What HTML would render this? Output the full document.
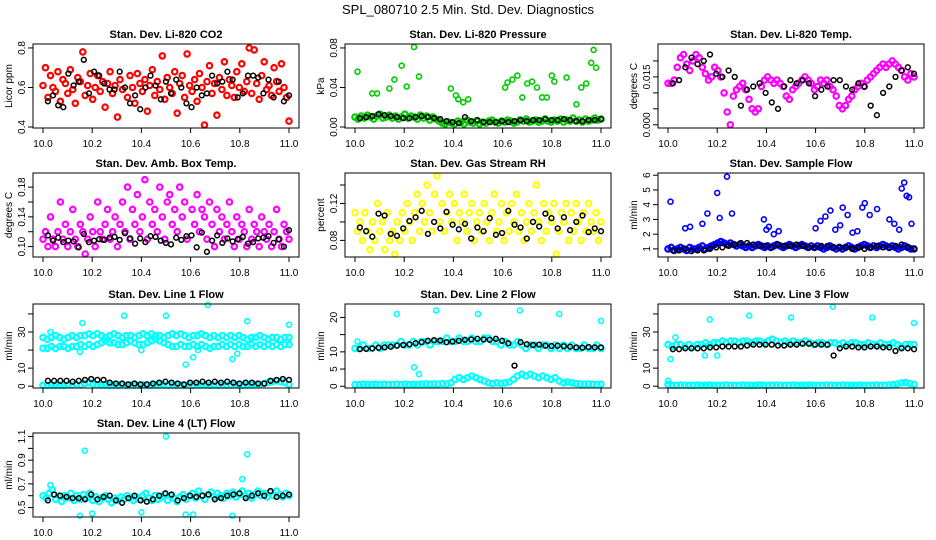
<!DOCTYPE html>
<html><head><meta charset="utf-8"><style>
body{margin:0;background:#fff;}
svg{display:block;font-family:"Liberation Sans",sans-serif;}
</style></head><body>
<svg id="fig" width="936" height="540" viewBox="0 0 936 540">
<rect width="936" height="540" fill="#fff"/>
<text x="468" y="14" text-anchor="middle" font-size="13">SPL_080710  2.5 Min. Std. Dev. Diagnostics</text>
</svg>
<script>
// ---------- data ----------
const xTicks = [10.0, 10.2, 10.4, 10.6, 10.8, 11.0];
const xTickLabels = ["10.0", "10.2", "10.4", "10.6", "10.8", "11.0"];

const co2Color = [0.61,0.70,0.55,0.66,0.60,0.58,0.68,0.53,0.64,0.62,0.57,0.69,0.59,0.52,0.65,0.63,0.78,0.56,0.61,0.67,0.54,0.60,0.66,0.58,0.63,0.50,0.62,0.68,0.57,0.61,0.45,0.64,0.59,0.83,0.55,0.66,0.60,0.52,0.67,0.62,0.58,0.64,0.48,0.61,0.69,0.56,0.63,0.59,0.76,0.54,0.65,0.60,0.57,0.68,0.47,0.62,0.66,0.55,0.77,0.61,0.58,0.64,0.53,0.67,0.60,0.41,0.63,0.71,0.57,0.62,0.46,0.65,0.59,0.73,0.56,0.64,0.61,0.55,0.68,0.60,0.72,0.58,0.63,0.80,0.57,0.79,0.62,0.54,0.66,0.73,0.59,0.61,0.56,0.70,0.63,0.58,0.72,0.60,0.55,0.43];
const co2Black = [0.53,0.56,0.51,0.50,0.67,0.61,0.63,0.74,0.57,0.68,0.66,0.62,0.59,0.59,0.68,0.60,0.52,0.56,0.49,0.60,0.66,0.61,0.54,0.63,0.57,0.64,0.60,0.52,0.50,0.60,0.56,0.57,0.66,0.62,0.63,0.68,0.64,0.55,0.57,0.66,0.66,0.65,0.57,0.64,0.55,0.63,0.53,0.56];

const presColor = [0.010,0.008,0.011,0.009,0.012,0.010,0.008,0.011,0.013,0.009,0.010,0.012,0.009,0.011,0.008,0.010,0.013,0.009,0.011,0.010,0.008,0.012,0.009,0.011,0.007,0.010,0.008,0.006,0.004,0.003,0.005,0.004,0.003,0.006,0.005,0.003,0.007,0.005,0.004,0.006,0.003,0.005,0.004,0.006,0.007,0.005,0.004,0.006,0.005,0.007,0.006,0.004,0.005,0.007,0.006,0.008,0.005,0.006,0.007,0.005,0.006,0.008,0.006,0.005,0.007,0.006,0.008,0.005,0.007,0.006,0.009,0.006,0.007,0.005,0.008,0.006,0.007,0.009,0.007,0.008];
const presOutX = [10.01,10.07,10.09,10.14,10.16,10.19,10.21,10.24,10.26,10.39,10.41,10.42,10.44,10.46,10.61,10.62,10.64,10.66,10.68,10.70,10.72,10.74,10.76,10.78,10.80,10.81,10.86,10.90,10.92,10.94,10.96,10.97,10.98];
const presOutY = [0.056,0.034,0.034,0.039,0.048,0.062,0.041,0.081,0.051,0.039,0.032,0.028,0.025,0.028,0.040,0.045,0.048,0.052,0.030,0.044,0.046,0.040,0.030,0.030,0.052,0.046,0.050,0.023,0.040,0.044,0.065,0.078,0.060];
const presBlack = [0.009,0.010,0.011,0.013,0.012,0.011,0.010,0.009,0.009,0.010,0.011,0.010,0.009,0.008,0.006,0.005,0.004,0.010,0.006,0.007,0.005,0.005,0.005,0.006,0.005,0.006,0.007,0.006,0.007,0.007,0.008,0.007,0.007,0.008,0.007,0.006,0.006,0.007,0.007,0.008];

const tempColor = [0.013,0.013,0.014,0.018,0.021,0.022,0.019,0.017,0.020,0.022,0.021,0.018,0.016,0.014,0.015,0.018,0.017,0.015,0.010,0.004,0.000,0.009,0.011,0.012,0.013,0.011,0.008,0.005,0.004,0.005,0.012,0.014,0.015,0.014,0.013,0.014,0.013,0.012,0.009,0.008,0.011,0.012,0.013,0.014,0.015,0.014,0.013,0.011,0.012,0.014,0.013,0.014,0.012,0.011,0.009,0.006,0.005,0.006,0.008,0.009,0.011,0.012,0.013,0.012,0.014,0.015,0.016,0.017,0.018,0.019,0.018,0.019,0.020,0.019,0.018,0.017,0.015,0.014,0.016,0.015];
const tempBlack = [0.013,0.014,0.018,0.021,0.019,0.020,0.022,0.016,0.015,0.017,0.015,0.006,0.011,0.012,0.013,0.010,0.007,0.005,0.012,0.014,0.013,0.014,0.013,0.009,0.011,0.012,0.014,0.014,0.012,0.011,0.013,0.012,0.006,0.003,0.010,0.012,0.015,0.017,0.018,0.016];

const ambColor = [0.11,0.12,0.10,0.14,0.11,0.10,0.12,0.16,0.11,0.13,0.10,0.12,0.15,0.11,0.10,0.13,0.12,0.09,0.11,0.14,0.12,0.10,0.16,0.12,0.11,0.13,0.15,0.11,0.12,0.14,0.10,0.13,0.16,0.12,0.18,0.11,0.15,0.13,0.17,0.12,0.14,0.19,0.11,0.16,0.13,0.15,0.12,0.18,0.14,0.11,0.16,0.17,0.13,0.15,0.12,0.18,0.14,0.16,0.11,0.20,0.15,0.13,0.17,0.12,0.15,0.14,0.11,0.16,0.13,0.10,0.15,0.12,0.14,0.11,0.13,0.16,0.12,0.10,0.14,0.11,0.13,0.12,0.10,0.15,0.11,0.13,0.12,0.10,0.14,0.12,0.11,0.13,0.10,0.12,0.15,0.11,0.10,0.13,0.12,0.11];
const ambBlack = [0.115,0.108,0.112,0.106,0.108,0.107,0.099,0.117,0.106,0.108,0.110,0.109,0.112,0.113,0.109,0.118,0.111,0.104,0.111,0.106,0.114,0.113,0.108,0.105,0.103,0.112,0.109,0.114,0.115,0.099,0.119,0.093,0.108,0.115,0.105,0.111,0.107,0.110,0.113,0.104,0.106,0.111,0.112,0.114,0.105,0.110,0.100,0.122];

const rhColor = [0.11,0.09,0.10,0.08,0.11,0.09,0.07,0.10,0.08,0.12,0.09,0.10,0.07,0.11,0.08,0.09,0.065,0.10,0.08,0.11,0.09,0.12,0.10,0.08,0.11,0.13,0.09,0.12,0.10,0.14,0.11,0.09,0.13,0.15,0.10,0.12,0.09,0.11,0.13,0.10,0.12,0.08,0.11,0.10,0.13,0.09,0.11,0.12,0.08,0.10,0.11,0.09,0.12,0.10,0.08,0.11,0.13,0.09,0.10,0.12,0.08,0.11,0.09,0.12,0.10,0.13,0.09,0.11,0.08,0.10,0.12,0.09,0.11,0.14,0.10,0.08,0.12,0.09,0.11,0.10,0.12,0.065,0.09,0.11,0.10,0.12,0.08,0.11,0.09,0.12,0.10,0.08,0.11,0.09,0.12,0.10,0.09,0.11,0.08,0.10];
const rhBlack = [0.094,0.090,0.084,0.109,0.107,0.087,0.085,0.093,0.101,0.105,0.112,0.087,0.100,0.093,0.111,0.097,0.092,0.098,0.082,0.094,0.090,0.104,0.086,0.088,0.112,0.097,0.094,0.082,0.100,0.095,0.109,0.104,0.093,0.105,0.091,0.100,0.107,0.089,0.093,0.090];

const flowColor = [1.0,1.1,0.9,1.0,1.1,1.0,0.9,1.1,1.0,1.0,1.1,1.2,1.0,1.1,1.2,1.3,1.4,1.5,1.4,1.3,1.4,1.3,1.2,1.3,1.2,1.1,1.2,1.1,1.2,1.3,1.2,1.1,1.2,1.1,1.2,1.3,1.2,1.1,1.2,1.3,1.2,1.1,1.2,1.3,1.2,1.1,1.2,1.1,1.2,1.1,1.0,1.1,1.2,1.1,1.0,1.1,1.0,1.1,1.2,1.1,1.0,1.1,1.2,1.3,1.2,1.1,1.2,1.1,1.2,1.3,1.2,1.1,1.2,1.1,1.0,1.1,1.2,1.1,1.0,1.0];
const flowOutX = [10.01,10.07,10.09,10.14,10.16,10.20,10.21,10.24,10.26,10.39,10.40,10.41,10.43,10.45,10.60,10.62,10.64,10.66,10.68,10.70,10.71,10.73,10.75,10.77,10.79,10.80,10.82,10.85,10.90,10.92,10.94,10.95,10.96,10.97,10.98,10.99];
const flowOutY = [4.2,2.4,2.5,2.7,3.4,4.8,3.1,5.9,3.4,3.0,2.3,2.5,2.0,2.2,2.4,2.9,3.2,3.6,2.3,2.6,3.8,3.3,2.1,2.2,3.8,4.1,3.3,3.7,3.0,2.7,2.3,5.1,5.5,4.6,4.5,2.7];
const flowBlack = [0.9,0.9,1.0,0.85,0.9,0.9,1.0,1.1,1.1,1.2,1.3,1.4,1.4,1.3,1.2,1.2,1.1,1.3,1.2,1.2,1.3,1.2,1.1,1.1,1.2,1.2,1.1,1.1,1.1,1.0,1.1,1.0,1.1,1.2,1.1,1.1,1.2,1.3,1.1,1.0];

const l1BandA = [27,26,27,28,27,26,27,28,27,28,28,29,28,29,28,27,28,29,28,27,28,28,27,28,29,28,29,28,28,27,28,29,28,29,28,27,28,28,29,28,27,28,27,28,27,28,27,28,27,26,27,27,28,27,26,27,27,26,27,27];
const l1BandB = [21,21,22,21,22,22,21,22,22,23,22,23,22,23,24,25,24,24,23,23,24,25,24,23,23,24,25,26,25,24,23,22,22,23,22,22,23,22,23,22,21,22,22,23,22,23,22,23,22,22,23,22,23,22,23,22,23,22,23,23];
const l1BandC = [0.5,0.5,0.6,0.5,0.6,0.5,0.7,0.6,0.8,0.7,1.5,2,1.2,0.8,0.6,0.6,0.5,0.6,0.5,0.6,0.5,0.6,0.5,0.6,0.7,0.6,0.5,0.6,0.7,0.6,0.5,0.6,0.5,0.6,0.5,0.6,0.5,0.6,0.7,0.6,0.5,0.6,0.5,0.6,0.5,0.6,0.7,0.6,0.5,0.6,0.7,0.8,1.0,1.5,2,2.5,3,2.5,2,1.0];
const l1OutX = [10.03,10.15,10.16,10.33,10.40,10.50,10.58,10.61,10.63,10.67,10.77,10.79,10.83,11.0];
const l1OutY = [30,19,35,39,20,39,12,16,20,45,15,18,36,34];
const l1Black = [3,3,3,3,2.5,3,3.5,4,3.5,3.5,2,1.5,1.5,1,1.5,1,1,1.5,2,2.5,2,1.5,1,2,2,2.5,2,2.5,2,2.5,2,1.5,2,2,1.5,1.5,3,3.5,4,3.5];

const l2BandA = [11,11,12,11,11,12,11,12,12,12,12,13,12,12,13,12,13,13,12,13,13,13,14,13,13,14,13,13,14,13,13,14,14,13,13,12,13,12,12,13,12,11,12,12,11,12,12,11,12,11,12,11,12,11,11,12,11,11,12,11];
const l2BandB = [0.5,0.5,0.6,0.5,0.5,0.6,0.5,0.6,0.5,0.5,0.6,0.5,0.6,0.5,0.6,0.5,0.6,0.7,0.6,0.7,0.6,0.8,0.7,1,2,2.5,2,2.5,3,2.5,2,1.5,1,0.8,1,0.8,1,1.2,2,3,3.5,3,3.5,3,2.5,3,2.5,2,2.5,1.5,1,1.2,1,0.8,0.7,0.6,0.7,0.6,0.5,0.6];
const l2OutX = [10.01,10.17,10.24,10.26,10.33,10.50,10.67,10.83,11.0];
const l2OutY = [13,21,5.5,3.5,22,21,22,21,19];
const l2Black = [10.8,10.9,11,11.2,11.3,11.5,11.8,12,12.2,12.5,12.8,13.2,13.4,13.3,12.8,13,13.2,13.5,13.6,13.8,13.6,13.5,13.8,13.2,12.5,6,12.8,12.2,12,12.1,11.8,11.7,11.8,11.6,11.5,11.3,11.2,11.4,11.3,11.3];

const l3BandA = [23,22,23,23,22,23,22,23,23,24,23,24,24,25,24,25,25,24,25,25,24,25,25,24,25,26,25,24,25,24,25,24,24,25,24,23,24,24,23,24,24,23,24,23,24,24,23,23,24,23,23,24,23,23,24,23,22,23,23,23];
const l3BandB = [1,0.5,0.5,0.6,0.5,0.5,0.5,0.6,0.5,0.5,0.6,0.5,0.5,0.5,0.6,0.5,0.5,0.5,0.6,0.5,0.5,0.5,0.6,0.5,0.5,0.5,0.6,0.5,0.5,0.5,0.6,0.5,0.5,0.5,0.6,0.5,0.5,0.5,0.6,0.5,0.5,0.5,0.6,0.5,0.5,0.5,0.6,0.5,0.5,0.5,0.6,0.5,0.5,0.6,0.8,1.2,1.8,2,1.5,1.0];
const l3OutX = [10.00,10.01,10.03,10.15,10.17,10.20,10.33,10.50,10.67,10.83,11.0];
const l3OutY = [3,15,27,17,37,17,39,38,44,38,35];
const l3Black = [20.5,20.5,21,21,21,21,21.5,21.5,22,22,22,22,22.5,23,23,23,23,22.5,22.5,23,23,23.5,23.5,23,23,23,17,21,22,22,21.5,21.5,22,22,21.5,21.5,19.5,21,21,20.5];

const l4Color = [0.6,0.58,0.62,0.65,0.57,0.6,0.55,0.6,0.58,0.62,0.56,0.6,0.57,0.61,0.58,0.62,0.56,0.59,0.55,0.58,0.6,0.57,0.54,0.58,0.56,0.59,0.57,0.6,0.58,0.56,0.59,0.57,0.6,0.62,0.58,0.56,0.6,0.57,0.59,0.61,0.56,0.6,0.58,0.55,0.59,0.61,0.57,0.6,0.62,0.58,0.64,0.6,0.57,0.61,0.63,0.59,0.62,0.6,0.58,0.62,0.6,0.63,0.59,0.61,0.64,0.6,0.62,0.58,0.61,0.64,0.6,0.62,0.59,0.63,0.6,0.64,0.61,0.59,0.62,0.6];
const l4OutX = [10.03,10.15,10.17,10.20,10.40,10.50,10.58,10.61,10.77,10.81,10.83];
const l4OutY = [0.69,0.43,0.98,0.45,0.46,1.10,0.44,0.44,0.43,0.74,0.95];
const l4Black = [0.56,0.61,0.6,0.59,0.58,0.58,0.57,0.61,0.57,0.59,0.6,0.56,0.54,0.58,0.6,0.56,0.55,0.57,0.6,0.62,0.61,0.56,0.58,0.6,0.59,0.6,0.61,0.57,0.58,0.6,0.61,0.62,0.58,0.6,0.62,0.6,0.64,0.59,0.6,0.61];

// ---------- drawing ----------
const NS = "http://www.w3.org/2000/svg";
const svg = document.getElementById("fig");
const colLeft = [33, 345, 658], rowTop = [44, 173, 304, 433], W = 266, H = 84;

function mk(tag, attrs, parent) {
  const e = document.createElementNS(NS, tag);
  for (const k in attrs) e.setAttribute(k, attrs[k]);
  (parent || svg).appendChild(e);
  return e;
}

function panel(p) {
  const L = colLeft[p.col], T = rowTop[p.row];
  const g = mk("g", {});
  
  
  const sx = v => L + 10 + (v - 10) * (W - 20);
  const sy = v => T + H - (v - p.ymin) / (p.ymax - p.ymin) * H;
  const title = mk("text", {x: L + W / 2, y: T - 6, "text-anchor": "middle", "font-size": 11, "font-weight": "bold"}, g);
  title.textContent = p.title;
  
  
  const yt = mk("text", {x: L - 21, y: T + H / 2, "text-anchor": "middle", "font-size": 10, transform: `rotate(-90 ${L - 21} ${T + H / 2})`}, g);
  yt.textContent = p.ylab;
  
  
  const pts = mk("g", {fill: "none"}, g);
  
  
  const dot = (x, y, c, r, sw) => {
    if (y < p.ymin || y > p.ymax) return;
    const d = mk("circle", {cx: sx(x).toFixed(1), cy: sy(y).toFixed(1), r: r, stroke: c, "stroke-width": sw}, pts);
    
    
  };
  p.bands.forEach(arr => arr.forEach((v, i) => dot(10 + i / (arr.length - 1), v, p.color, 2.7, 2.2)));
  if (p.outX) p.outX.forEach((x, i) => dot(x, p.outY[i], p.color, 2.5, 1.6));
  p.black.forEach((v, i) => dot(10.02 + i * 0.98 / (p.black.length - 1), v, "#000", 2.4, 1.5));
  const box = mk("rect", {x: L, y: T, width: W, height: H, fill: "none", stroke: "#000", "stroke-width": 1}, g);
  
  
  const xa = mk("g", {}, g);
  
  
  mk("line", {x1: sx(xTicks[0]), x2: sx(xTicks[xTicks.length - 1]), y1: T + H, y2: T + H, stroke: "#000"}, xa);
  xTicks.forEach((t, i) => {
    mk("line", {x1: sx(t), x2: sx(t), y1: T + H, y2: T + H + 5, stroke: "#000"}, xa);
    const lb = mk("text", {x: sx(t), y: T + H + 19, "text-anchor": "middle", "font-size": 10}, xa);
    lb.textContent = xTickLabels[i];
    
    
  });
  const ya = mk("g", {}, g);
  
  
  p.yticks.forEach((t, i) => {
    mk("line", {x1: L - 5, x2: L, y1: sy(t), y2: sy(t), stroke: "#000"}, ya);
    if (p.ylabels[i]) {
      const lb = mk("text", {x: L - 8, y: sy(t), "text-anchor": "middle", "font-size": 10, transform: `rotate(-90 ${L - 8} ${sy(t)})`}, ya);
      lb.textContent = p.ylabels[i];
      
      
    }
  });
}

panel({name: "panel-co2", col: 0, row: 0, title: "Stan. Dev. Li-820 CO2", ylab: "Licor ppm", ymin: 0.395, ymax: 0.82, color: "#ff0000", bands: [co2Color], black: co2Black, yticks: [0.4, 0.6, 0.8], ylabels: ["0.4", "0.6", "0.8"]});
panel({name: "panel-pressure", col: 1, row: 0, title: "Stan. Dev. Li-820 Pressure", ylab: "kPa", ymin: -0.001, ymax: 0.084, color: "#00cc00", bands: [presColor], outX: presOutX, outY: presOutY, black: presBlack, yticks: [0, 0.04, 0.08], ylabels: ["0.00", "0.04", "0.08"]});
panel({name: "panel-temp", col: 2, row: 0, title: "Stan. Dev. Li-820 Temp.", ylab: "degrees C", ymin: -0.001, ymax: 0.0253, color: "#ff00ff", bands: [tempColor], black: tempBlack, yticks: [0, 0.005, 0.01, 0.015, 0.02], ylabels: ["0.000", "", "", "0.015", ""]});
panel({name: "panel-amb-box", col: 0, row: 1, title: "Stan. Dev. Amb. Box Temp.", ylab: "degrees C", ymin: 0.086, ymax: 0.199, color: "#ff00ff", bands: [ambColor], black: ambBlack, yticks: [0.10, 0.12, 0.14, 0.16, 0.18], ylabels: ["0.10", "", "0.14", "", "0.18"]});
panel({name: "panel-rh", col: 1, row: 1, title: "Stan. Dev. Gas Stream RH", ylab: "percent", ymin: 0.062, ymax: 0.153, color: "#ffff00", bands: [rhColor], black: rhBlack, yticks: [0.08, 0.10, 0.12, 0.14], ylabels: ["0.08", "", "0.12", ""]});
panel({name: "panel-sample-flow", col: 2, row: 1, title: "Stan. Dev. Sample Flow", ylab: "ml/min", ymin: 0.45, ymax: 6.15, color: "#0000ff", bands: [flowColor], outX: flowOutX, outY: flowOutY, black: flowBlack, yticks: [1, 2, 3, 4, 5, 6], ylabels: ["1", "2", "3", "4", "5", "6"]});
panel({name: "panel-line1", col: 0, row: 2, title: "Stan. Dev. Line 1 Flow", ylab: "ml/min", ymin: -1, ymax: 45.5, color: "#00ffff", bands: [l1BandA, l1BandB, l1BandC], outX: l1OutX, outY: l1OutY, black: l1Black, yticks: [0, 10, 20, 30, 40], ylabels: ["0", "10", "", "30", ""]});
panel({name: "panel-line2", col: 1, row: 2, title: "Stan. Dev. Line 2 Flow", ylab: "ml/min", ymin: -0.5, ymax: 23.9, color: "#00ffff", bands: [l2BandA, l2BandB], outX: l2OutX, outY: l2OutY, black: l2Black, yticks: [0, 5, 10, 15, 20], ylabels: ["0", "5", "10", "", "20"]});
panel({name: "panel-line3", col: 2, row: 2, title: "Stan. Dev. Line 3 Flow", ylab: "ml/min", ymin: -1, ymax: 45.5, color: "#00ffff", bands: [l3BandA, l3BandB], outX: l3OutX, outY: l3OutY, black: l3Black, yticks: [0, 10, 20, 30, 40], ylabels: ["0", "10", "", "30", ""]});
panel({name: "panel-line4", col: 0, row: 3, title: "Stan. Dev. Line 4 (LT) Flow", ylab: "ml/min", ymin: 0.42, ymax: 1.13, color: "#00ffff", bands: [l4Color], outX: l4OutX, outY: l4OutY, black: l4Black, yticks: [0.5, 0.6, 0.7, 0.8, 0.9, 1.0, 1.1], ylabels: ["0.5", "", "0.7", "", "0.9", "", "1.1"]});
</script>
</body></html>
